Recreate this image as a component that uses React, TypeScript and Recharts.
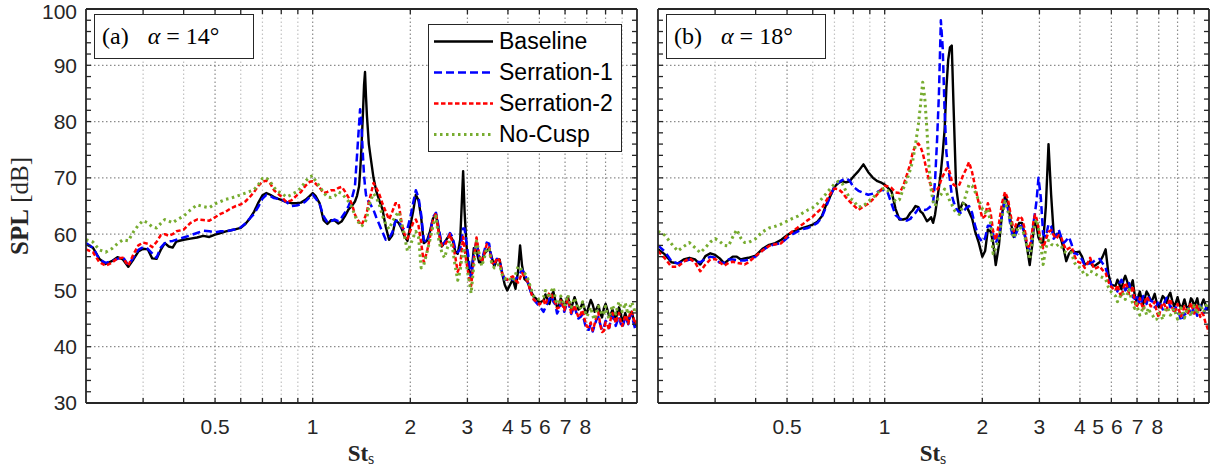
import React from 'react';
import { LineChart, Line, XAxis, YAxis, ReferenceLine, Legend } from 'recharts';

// Strouhal number grid (shared low / high parts, panel-specific middle part)
const stLow = [
  0.2, 0.21, 0.22, 0.23, 0.24, 0.25, 0.26, 0.27, 0.28, 0.29, 0.3, 0.31, 0.32, 0.33, 0.34, 0.35, 0.36, 0.37, 0.38,
  0.4, 0.42, 0.44, 0.46, 0.48, 0.5, 0.52, 0.54, 0.56, 0.58, 0.6, 0.62, 0.64, 0.66, 0.68, 0.7, 0.72, 0.74, 0.76, 0.78, 0.8,
  0.83, 0.86, 0.89, 0.92, 0.95, 0.98,
];
const stMidA = [
  1, 1.02, 1.05, 1.08, 1.11, 1.14, 1.17, 1.2, 1.23, 1.26, 1.29, 1.32, 1.35,
  1.37, 1.39, 1.4, 1.41, 1.42, 1.43, 1.44, 1.45, 1.46, 1.47,
  1.49, 1.51, 1.54, 1.57, 1.6,
  1.64, 1.68, 1.72, 1.76, 1.8, 1.84, 1.88, 1.92, 1.96, 2,
];
const stMidB = [
  1, 1.02, 1.05, 1.08, 1.11, 1.14, 1.17, 1.2, 1.22, 1.245, 1.27, 1.29, 1.31, 1.33, 1.35, 1.37, 1.39,
  1.41, 1.43, 1.45, 1.47, 1.49, 1.51, 1.53, 1.55, 1.57, 1.59, 1.61, 1.63,
  1.66, 1.7, 1.74, 1.78, 1.82, 1.86, 1.9, 1.95, 2,
];
const stHigh = [
  2.04, 2.08, 2.12, 2.16, 2.2,
  2.25, 2.3, 2.35, 2.4, 2.45, 2.5, 2.55, 2.6, 2.65, 2.7, 2.75, 2.8, 2.85,
  2.88, 2.91, 2.94, 2.98, 3.03, 3.08,
  3.14, 3.2, 3.26, 3.32, 3.38, 3.44, 3.5, 3.56,
  3.63, 3.7, 3.77, 3.84, 3.91, 3.98,
  4.06, 4.14, 4.22, 4.3, 4.36, 4.42, 4.5,
  4.6, 4.7, 4.8, 4.9, 5,
];
const stTail = [
  5.15, 5.22, 5.3, 5.37, 5.45, 5.52, 5.6, 5.67, 5.75, 5.82, 5.9, 5.97, 6.05, 6.12, 6.2, 6.27, 6.35, 6.42, 6.5,
  6.6, 6.7, 6.8, 6.9, 7.0, 7.1, 7.2, 7.3, 7.4, 7.5, 7.6, 7.7, 7.8, 7.9, 8.0, 8.1, 8.2, 8.3, 8.4, 8.5, 8.6,
  8.7, 8.8, 8.9, 9.0, 9.1, 9.2, 9.3, 9.4, 9.5, 9.62, 9.75, 9.87, 10,
];
const stA = [...stLow, ...stMidA, ...stHigh, ...stTail];
const stB = [...stLow, ...stMidB, ...stHigh, ...stTail];

// (a) alpha = 14 deg
const baselineA = [
  58.2, 57.6, 55.6, 54.7, 55.2, 55.9, 55.5, 54.2, 55.5, 56.9, 57.4, 57.3, 55.7, 55.6, 57.2, 58.4, 57.8, 57.6, 58.7,
  59.0, 59.2, 59.4, 59.7, 59.5, 59.9, 60.2, 60.5, 60.7, 60.9, 61.1, 61.8, 62.8, 64.0, 65.6, 66.9, 67.3, 67.0, 66.6, 66.3, 66.1,
  65.7, 65.5, 65.5, 65.6, 66.1, 66.8,
  67.3, 66.8, 65.5, 62.5, 61.8, 62.5, 62.4, 61.9, 62.3, 63.3, 64.4, 65.0, 65.8,
  66.8, 68.5, 71.0, 74.0, 77.9, 82.0, 86.5, 88.8, 84.5, 81.0,
  76.0, 73.5, 70.0, 67.7, 66.2,
  64.5, 61.3, 59.0, 59.8, 62.5, 62.0, 61.0, 59.6, 58.8, 61.5,
  64.0, 67.0, 66.0, 63.0, 58.4,
  58.8, 60.5, 62.8, 63.5, 60.5, 57.8, 58.5, 59.3, 59.8, 59.0, 57.0, 56.5, 59.0,
  65.0, 71.2, 64.0, 58.0, 53.5, 52.5,
  57.5, 57.0, 55.0, 55.0, 56.5, 57.0, 57.5, 56.0,
  54.3, 55.5, 55.5, 53.0, 51.0, 50.0,
  51.0, 52.0, 50.3, 53.5, 58.0, 54.5, 52.0,
  51.5, 50.0, 48.9, 48.5, 47.8,
  48.2, 49.3, 48.4, 47.6, 49.0, 49.8, 48.2, 47.0, 47.3, 48.6, 47.8, 46.9, 48.0, 48.9, 47.6, 46.8, 47.9, 48.8, 47.8,
  46.6, 46.9, 47.9, 46.6, 45.8, 47.2, 48.3, 47.5, 46.2, 46.7, 47.4, 46.0, 45.2, 46.8, 47.6, 46.6, 45.4, 45.7, 46.6, 45.6, 44.8,
  46.2, 47.0, 46.0, 44.6, 45.0, 46.0, 45.0, 44.2, 45.5, 46.2, 45.0, 44.2, 43.5,
];
const serration1A = [
  58.4, 57.6, 55.5, 54.9, 55.2, 55.6, 55.9, 54.5, 55.8, 57.2, 57.7, 57.4, 56.6, 55.8, 57.6, 58.4, 58.7, 58.8, 59.0,
  59.4, 59.8, 60.2, 60.6, 60.5, 60.3, 60.5, 60.5, 60.7, 60.9, 61.2, 61.9, 62.8, 63.6, 64.9, 66.3, 67.0, 66.8, 66.4, 66.3, 66.2,
  65.7, 65.0, 65.1, 65.3, 65.8, 66.6,
  67.0, 66.4, 65.4, 63.2, 62.1, 62.3, 62.6, 62.3, 63.0, 63.9, 65.0, 66.3, 68.5,
  74.0, 79.5, 82.2, 80.5, 77.0, 73.5, 70.5, 68.5, 67.0, 66.3,
  65.7, 65.2, 64.3, 63.0, 61.9,
  60.4, 59.0, 59.3, 60.3, 62.3, 62.5, 61.2, 60.8, 61.0, 63.0,
  65.5, 67.8, 66.5, 63.5, 59.0,
  58.5, 60.0, 63.0, 63.8, 61.0, 58.1, 58.5, 59.2, 60.2, 59.5, 57.5, 56.8, 57.3,
  59.0, 61.0, 61.0, 58.5, 55.5, 51.9,
  56.5, 58.8, 56.0, 55.3, 57.0, 58.5, 58.3, 55.8,
  54.8, 55.6, 55.3, 53.2, 51.9, 51.9,
  52.2, 51.9, 52.0, 52.5, 53.0, 53.7, 53.0,
  51.6, 49.8, 48.4, 47.8, 47.2,
  46.2, 47.0, 47.8, 48.5, 49.0, 48.0, 47.5, 45.9, 46.6, 47.8, 47.2, 46.2, 47.3, 48.1, 47.0, 45.8, 46.6, 47.3, 46.0,
  45.0, 45.3, 45.8, 44.2, 43.0, 43.0, 44.0, 42.7, 43.8, 44.8, 45.3, 44.0, 43.0, 43.4, 44.6, 44.2, 43.3, 44.7, 45.5, 44.8, 43.7,
  44.6, 45.3, 44.2, 43.4, 44.2, 45.4, 44.8, 44.0, 45.2, 45.8, 44.3, 43.2, 43.7,
];
const serration2A = [
  57.3, 56.8, 55.0, 54.4, 54.9, 55.7, 55.8, 54.4, 56.4, 58.0, 58.5, 58.3, 57.7, 58.6, 59.8, 60.0, 59.7, 60.0, 60.5,
  60.8, 62.0, 62.6, 62.5, 62.4, 63.0, 63.6, 64.0, 64.6, 65.0, 65.3, 65.8, 66.6, 67.5, 68.6, 69.3, 69.5, 69.0, 67.8, 67.2, 66.7,
  65.7, 66.0, 66.8, 67.5, 68.6, 69.3,
  69.4, 69.0, 68.3, 67.3, 67.5, 67.8, 67.8, 68.2, 68.4, 67.5, 66.5, 65.4, 63.5,
  62.7, 62.2, 61.8, 61.6, 61.8, 62.2, 62.5, 63.0, 63.5, 64.0,
  65.7, 67.0, 69.1, 68.2, 67.3,
  65.5, 64.0, 62.6, 64.0, 65.5, 65.5, 62.0, 60.0, 59.2, 60.6,
  62.0, 62.6, 61.5, 58.5, 55.0,
  56.8, 59.5, 62.5, 63.8, 60.0, 58.0, 58.0, 58.8, 60.0, 58.5, 56.1, 53.3, 54.5,
  57.0, 59.5, 57.5, 55.0, 52.5, 50.8,
  55.5, 59.4, 56.5, 55.0, 56.5, 58.2, 57.6, 55.0,
  54.6, 55.8, 55.3, 53.0, 52.2, 51.9,
  52.3, 52.5, 51.8, 51.4, 52.2, 53.1, 52.5,
  51.6, 49.8, 48.4, 48.0, 47.5,
  48.2, 47.4, 48.8, 49.6, 49.3, 48.3, 47.8, 46.8, 47.0, 48.2, 47.4, 46.5, 47.7, 48.4, 47.2, 46.0, 46.6, 47.4, 46.3,
  45.2, 45.8, 46.5, 44.8, 43.6, 43.5, 44.3, 42.9, 44.0, 45.4, 46.1, 44.0, 42.6, 42.8, 44.3, 44.0, 43.0, 45.0, 46.0, 45.3, 44.2,
  45.2, 46.0, 44.6, 43.7, 44.5, 45.6, 45.2, 44.1, 45.8, 46.4, 45.2, 44.0, 44.6,
];
const noCuspA = [
  59.0, 58.6, 57.2, 56.8, 57.4, 58.3, 59.0, 58.8, 60.4, 61.6, 62.4, 62.0, 61.3, 61.1, 61.9, 62.6, 62.3, 62.0, 62.5,
  63.2, 64.3, 65.2, 64.9, 64.7, 65.4, 65.8, 66.2, 66.4, 66.7, 67.0, 67.3, 67.6, 67.9, 68.8, 69.9, 70.0, 69.3, 68.3, 67.6, 67.3,
  66.6, 67.0, 67.5, 68.2, 69.4, 70.2,
  70.4, 69.5, 68.5, 67.4, 66.6, 66.5, 66.8, 67.5, 67.2, 66.5, 65.8, 64.8, 63.3,
  62.4, 62.0, 61.6, 61.4, 61.5, 61.7, 61.9, 62.1, 62.5, 63.0,
  65.0, 66.0, 67.2, 66.5, 65.5,
  63.3, 61.8, 60.9, 62.2, 63.2, 64.0, 61.8, 59.5, 57.0, 58.0,
  59.4, 60.5, 59.5, 54.0, 54.5,
  56.7, 59.0, 61.5, 63.2, 58.8, 56.8, 55.8, 57.5, 58.8, 57.5, 54.3, 51.8, 53.5,
  55.5, 57.0, 57.0, 54.5, 52.0, 49.5,
  54.5, 58.8, 56.5, 54.3, 55.7, 57.5, 57.3, 55.0,
  54.0, 54.5, 54.6, 52.8, 52.0, 52.4,
  52.0, 51.6, 52.8, 54.3, 54.0, 53.6, 53.1,
  52.2, 50.5, 49.0, 48.6, 48.4,
  48.8, 50.0, 49.4, 48.6, 49.9, 50.6, 48.6, 47.6, 47.8, 49.0, 48.2, 47.2, 48.3, 49.2, 48.0, 47.0, 47.8, 48.7, 47.6,
  46.6, 47.0, 48.0, 46.4, 45.4, 46.0, 47.0, 45.5, 44.8, 46.2, 47.2, 46.6, 45.6, 46.0, 47.2, 45.8, 45.0, 46.3, 47.4, 46.6, 45.8,
  47.0, 48.0, 47.2, 46.2, 46.8, 47.8, 46.6, 45.8, 47.0, 47.9, 47.2, 46.0, 46.3,
];

// (b) alpha = 18 deg
const baselineB = [
  57.3, 56.4, 55.0, 54.8, 55.5, 55.8, 55.5, 54.6, 56.1, 56.6, 56.3, 55.7, 54.8, 55.4, 56.0, 56.0, 55.5, 55.7, 55.8,
  56.2, 57.4, 58.1, 58.4, 59.0, 59.8, 60.4, 60.8, 61.1, 61.4, 61.7, 62.2, 63.2, 65.2, 66.8, 68.4, 69.1, 69.4, 69.2, 69.4, 70.2,
  71.2, 72.4, 71.0, 70.0, 69.4, 69.1,
  68.8, 68.3, 67.6, 64.5, 62.6, 62.6, 62.8, 63.8, 64.2, 65.0, 64.8, 64.0, 63.7, 63.0, 62.3, 62.6, 63.0,
  62.0, 63.5, 66.0, 68.3, 71.0, 74.5, 78.5, 86.0, 91.0, 93.2, 93.5, 83.0,
  68.5, 64.0, 65.6, 65.2, 64.0, 62.8, 60.5, 58.5, 56.0,
  57.0, 60.8, 60.5, 58.5, 54.5,
  58.0, 63.5, 66.8, 65.5, 62.0, 59.5, 61.0, 62.0, 62.0, 60.0, 57.5, 54.5, 58.0,
  61.0, 62.0, 61.5, 59.4, 58.5, 58.5,
  64.9, 76.0, 67.0, 60.0, 59.8, 60.2, 59.0, 57.5,
  55.2, 56.5, 57.1, 56.8, 56.8, 56.9,
  56.0, 54.6, 54.8, 55.2, 54.5, 54.3, 54.6,
  55.0, 56.0, 57.3, 52.8, 51.0,
  50.8, 51.9, 51.0, 50.2, 51.8, 52.6, 51.5, 50.3, 50.9, 51.8, 49.2, 48.2, 48.8, 49.8, 48.4, 47.6, 48.8, 49.8, 49.3,
  48.2, 48.4, 49.4, 47.8, 47.0, 48.0, 49.0, 48.6, 47.8, 49.0, 49.6, 48.2, 47.2, 47.8, 48.8, 47.6, 46.8, 47.4, 48.4, 47.3, 46.6,
  47.4, 48.6, 48.2, 47.2, 47.8, 48.6, 47.2, 46.5, 47.6, 48.4, 47.5, 46.6, 47.2,
];
const serration1B = [
  58.0, 56.9, 55.2, 54.8, 55.1, 55.5, 55.2, 55.0, 55.6, 56.0, 55.8, 54.9, 54.9, 55.5, 55.5, 55.4, 55.3, 55.3, 55.5,
  56.0, 57.1, 57.9, 58.2, 58.4, 59.3, 60.0, 60.5, 60.9, 61.1, 61.5, 62.0, 63.0, 64.9, 66.8, 68.4, 69.2, 69.6, 69.9, 69.5, 68.4,
  67.7, 67.3, 67.0, 67.2, 67.5, 67.9,
  67.7, 67.5, 65.4, 63.4, 62.8, 62.5, 62.4, 62.7, 63.3, 63.8, 64.5, 64.6, 64.4, 64.3, 64.4, 64.7, 65.0,
  65.5, 69.5, 76.5, 85.0, 98.0, 93.0, 82.0, 74.5, 71.8, 69.5, 67.0, 65.8,
  64.6, 63.8, 63.8, 64.6, 65.0, 63.8, 61.5, 59.5, 58.6,
  59.3, 61.5, 61.5, 59.8, 58.4,
  59.8, 63.5, 66.0, 64.5, 61.0, 59.2, 60.3, 61.4, 61.5, 60.0, 58.0, 57.0, 59.5,
  62.2, 64.0, 66.0, 70.0, 66.5, 60.0,
  59.5, 61.8, 61.4, 59.2, 59.8, 60.8, 59.5, 58.4,
  58.9, 59.5, 58.2, 56.6, 56.5, 56.1,
  55.5, 54.4, 54.6, 54.9, 54.9, 55.2, 55.5,
  55.6, 54.8, 54.0, 52.2, 50.9,
  50.6, 49.8, 51.3, 51.9, 50.9, 50.0, 50.6, 51.3, 49.8, 48.8, 48.5, 49.3, 48.3, 47.4, 48.1, 49.0, 48.6, 47.6, 49.0,
  48.2, 48.0, 47.0, 47.3, 48.2, 47.4, 46.6, 48.0, 48.7, 48.1, 47.0, 47.4, 46.4, 47.0, 46.0, 45.8, 44.6, 44.8, 45.9, 45.6, 46.8,
  46.5, 45.6, 46.4, 47.2, 46.3, 45.5, 46.5, 47.3, 46.9, 46.0, 46.7, 47.3, 46.6,
];
const serration2B = [
  57.0, 55.7, 54.2, 54.2, 55.1, 55.7, 55.0, 53.4, 54.6, 55.5, 55.6, 55.0, 54.4, 54.9, 55.1, 54.9, 54.8, 54.6, 55.0,
  56.1, 57.1, 57.9, 58.2, 58.4, 59.7, 60.5, 61.2, 61.8, 62.5, 63.1, 63.9, 64.6, 65.9, 67.2, 68.1, 68.0, 67.4, 66.5, 65.8, 65.2,
  64.3, 64.9, 65.4, 66.2, 67.1, 68.0,
  68.6, 68.5, 68.2, 67.4, 67.3, 68.5, 70.5, 72.5, 74.5, 75.8, 76.1, 75.5, 74.4, 72.8, 71.0, 69.6, 68.5,
  67.6, 67.7, 67.9, 68.4, 69.5, 70.3, 70.9, 71.6, 71.8, 70.8, 69.5, 68.8,
  68.5, 68.8, 70.3, 71.5, 72.8, 71.0, 68.5, 65.5, 62.8,
  63.2, 65.5, 63.9, 60.5, 59.0,
  61.8, 65.5, 67.5, 66.2, 63.2, 60.5, 62.0, 63.2, 62.8, 61.0, 58.0, 57.5, 60.5,
  62.5, 63.5, 62.8, 61.0, 59.0, 57.5,
  59.0, 60.4, 60.7, 59.8, 59.2, 59.8, 59.5, 58.2,
  57.2, 57.5, 57.7, 56.3, 55.2, 55.0,
  54.8, 54.0, 54.8, 55.8, 54.8, 53.8, 54.0,
  54.3, 53.6, 53.1, 51.5, 50.6,
  50.0, 51.0, 49.6, 48.8, 50.5, 51.4, 50.6, 49.4, 49.9, 50.8, 48.0, 47.0, 47.7, 48.6, 47.5, 46.6, 48.0, 48.9, 48.4,
  47.2, 47.2, 48.0, 46.2, 45.2, 46.9, 47.8, 47.4, 46.5, 47.8, 48.5, 47.0, 46.0, 46.6, 47.6, 46.3, 45.4, 46.2, 47.2, 46.6, 45.7,
  47.0, 47.8, 46.8, 45.9, 46.6, 47.5, 46.3, 45.3, 46.0, 45.6, 44.3, 43.5, 42.5,
];
const noCuspB = [
  60.5, 59.8, 58.3, 57.0, 57.8, 58.5, 57.6, 56.7, 57.6, 58.6, 59.2, 58.7, 58.0, 57.9, 59.5, 60.8, 59.3, 58.5, 58.5,
  59.2, 60.4, 61.1, 61.4, 61.8, 62.3, 62.8, 63.2, 63.8, 64.3, 64.7, 65.4, 66.3, 67.2, 68.1, 68.9, 69.4, 69.0, 67.6, 66.4, 66.0,
  64.8, 65.0, 65.8, 66.5, 67.3, 68.0,
  68.2, 67.8, 67.0, 65.8, 66.1, 68.0, 69.5, 71.5, 73.0, 76.0, 79.5, 83.0, 87.0, 84.0, 78.5, 72.0, 68.0,
  65.8, 65.0, 66.0, 66.6, 67.0, 67.5, 68.0, 67.5, 66.6, 65.8, 65.3, 64.5,
  63.8, 63.5, 65.0, 67.0, 68.8, 68.6, 67.5, 66.0, 64.5,
  63.8, 64.5, 62.0, 56.5, 57.5,
  59.0, 63.0, 65.8, 64.0, 62.0, 59.3, 60.5, 61.4, 60.9, 59.8, 57.5, 55.5, 58.5,
  61.0, 62.0, 62.6, 61.0, 58.0, 54.6,
  57.5, 58.9, 58.2, 58.0, 57.9, 58.2, 57.9, 57.0,
  56.7, 56.7, 56.7, 55.0, 54.3, 54.1,
  53.5, 52.7, 52.8, 53.4, 53.3, 53.1, 52.8,
  52.5, 52.3, 52.0, 50.5, 49.7,
  49.0, 48.0, 48.6, 49.6, 49.3, 48.4, 49.4, 50.2, 48.7, 47.6, 46.8, 47.7, 46.5, 45.6, 46.3, 47.2, 46.6, 45.7, 46.9,
  46.0, 45.6, 44.8, 44.9, 45.9, 45.7, 44.8, 46.3, 47.0, 46.6, 45.6, 46.0, 46.8, 45.8, 44.9, 46.0, 46.9, 46.0, 45.1, 46.2, 47.0,
  46.3, 45.4, 46.4, 47.3, 46.6, 45.8, 46.7, 47.5, 46.9, 46.1, 47.0, 47.8, 47.2,
];

// axes / ticks
const xTickPos = [0.5, 1, 2, 3, 4, 4.55, 5.2, 6.02, 6.93];
const xTickText = ['0.5', '1', '2', '3', '4', '5', '6', '7', '8'];
const xMajorGrid = [0.5, 1, 2, 3, 4, 5, 6, 7, 8];
const xMinorGrid = [0.3, 0.4, 0.6, 0.7, 0.8, 0.9, 9];
const xTickMarks = [0.3, 0.4, 0.5, 0.6, 0.7, 0.8, 0.9, 1, 2, 3, 4, 5, 6, 7, 8, 9];
const yTicks = [30, 40, 50, 60, 70, 80, 90, 100];
const yGrid = [40, 50, 60, 70, 80, 90];
const yTickMarks = [
  32, 34, 36, 38, 40, 42, 44, 46, 48, 50, 52, 54, 56, 58, 60, 62, 64, 66,
  68, 70, 72, 74, 76, 78, 80, 82, 84, 86, 88, 90, 92, 94, 96, 98,
];

const SERIES = [
  { key: 'baseline', name: 'Baseline', color: '#000000', width: 2.4, dash: undefined as string | undefined },
  { key: 'serr1', name: 'Serration-1', color: '#0000ff', width: 2.5, dash: '8 4' },
  { key: 'serr2', name: 'Serration-2', color: '#ff0000', width: 2.5, dash: '4.5 2.5' },
  { key: 'nocusp', name: 'No-Cusp', color: '#77ac30', width: 3, dash: '2.5 3.5' },
];

const X_MIN = 0.2, X_MAX = 10, Y_MIN = 30, Y_MAX = 100;
const CHART_W = 650, CHART_H = 467;
const PLOT = { left: 86, top: 9, width: 551, height: 394 };
const TICK_PX = 5;
const tickDy = (TICK_PX * (Y_MAX - Y_MIN)) / PLOT.height;
const tickFx = Math.pow(X_MAX / X_MIN, TICK_PX / PLOT.width);

const AXIS_COLOR = '#262626';
const SANS = '"Liberation Sans", Arial, Helvetica, sans-serif';
const SERIF = '"Liberation Serif", "Times New Roman", serif';

function YTick(props: any) {
  const { x, y, payload } = props;
  // top label sits a little lower so it stays inside the figure
  const shift = payload.value === Y_MAX ? 3 : 0;
  return (
    <text x={x} y={y + shift} dy="0.355em" textAnchor="end" fontSize={21} fill={AXIS_COLOR} fontFamily={SANS}>
      {payload.value}
    </text>
  );
}

function renderLegend() {
  return (
    <div style={{ border: `1.3px solid ${AXIS_COLOR}`, background: '#fff', width: 192, padding: '1px 0', boxSizing: 'content-box' }}>
      {SERIES.map((s) => (
        <div key={s.key} style={{ display: 'flex', alignItems: 'center', height: 31 }}>
          <svg width={70} height={31} style={{ display: 'block' }}>
            <line x1={5} x2={64} y1={15.5} y2={15.5} stroke={s.color} strokeWidth={s.width} strokeDasharray={s.dash} />
          </svg>
          <span style={{ fontFamily: SANS, fontSize: 23, color: '#000', lineHeight: '31px', whiteSpace: 'nowrap' }}>{s.name}</span>
        </div>
      ))}
    </div>
  );
}

interface PanelProps {
  st: number[];
  values: number[][];
  left: number;
  tag: string;
  angle: string;
  yLabels: boolean;
  legend: boolean;
}

function Panel({ st, values, left, tag, angle, yLabels, legend }: PanelProps) {
  const data = st.map((x, i) => ({
    st: x,
    baseline: values[0][i],
    serr1: values[1][i],
    serr2: values[2][i],
    nocusp: values[3][i],
  }));
  const tickStyle = { fontSize: 21, fill: AXIS_COLOR, fontFamily: SANS };
  const frame = { stroke: AXIS_COLOR, strokeWidth: 1.8, ifOverflow: 'visible' as const };
  const tk = { stroke: AXIS_COLOR, strokeWidth: 1.3, ifOverflow: 'visible' as const };

  return (
    <div style={{ position: 'absolute', left, top: 0, width: CHART_W, height: CHART_H }}>
      <LineChart
        width={CHART_W}
        height={CHART_H}
        data={data}
        margin={{ top: PLOT.top, right: CHART_W - PLOT.left - PLOT.width, left: 16, bottom: 0 }}
      >
        <XAxis
          dataKey="st"
          type="number"
          scale="log"
          domain={[X_MIN, X_MAX]}
          allowDataOverflow
          ticks={xTickPos}
          interval={0}
          tickFormatter={(v: number) => xTickText[xTickPos.indexOf(v)] ?? ''}
          tickLine={false}
          axisLine={false}
          tickSize={0}
          tickMargin={16}
          height={CHART_H - PLOT.top - PLOT.height}
          tick={tickStyle}
        />
        <YAxis
          type="number"
          domain={[Y_MIN, Y_MAX]}
          allowDataOverflow
          ticks={yTicks}
          interval={0}
          tickLine={false}
          axisLine={false}
          tickSize={0}
          tickMargin={9}
          width={70}
          tick={yLabels ? <YTick /> : false}
        />
        {yGrid.map((v) => (
          <ReferenceLine key={'hg' + v} y={v} stroke="#8c8c8c" strokeWidth={1.2} strokeDasharray="1.5 2.5" />
        ))}
        {xMinorGrid.map((v) => (
          <ReferenceLine key={'mg' + v} x={v} stroke="#c2c2c2" strokeWidth={1.2} strokeDasharray="1.5 2.5" />
        ))}
        {xMajorGrid.map((v) => (
          <ReferenceLine key={'vg' + v} x={v} stroke="#8c8c8c" strokeWidth={1.2} strokeDasharray="1.5 2.5" />
        ))}
        {SERIES.map((s) => (
          <Line
            key={s.key}
            dataKey={s.key}
            name={s.name}
            stroke={s.color}
            strokeWidth={s.width}
            strokeDasharray={s.dash}
            strokeLinejoin="round"
            dot={false}
            activeDot={false}
            isAnimationActive={false}
          />
        ))}
        {xTickMarks.map((v) => (
          <ReferenceLine key={'tb' + v} segment={[{ x: v, y: Y_MIN }, { x: v, y: Y_MIN + tickDy }]} {...tk} />
        ))}
        {xTickMarks.map((v) => (
          <ReferenceLine key={'tt' + v} segment={[{ x: v, y: Y_MAX }, { x: v, y: Y_MAX - tickDy }]} {...tk} />
        ))}
        {yTickMarks.map((v) => (
          <ReferenceLine key={'tl' + v} segment={[{ x: X_MIN, y: v }, { x: X_MIN * tickFx, y: v }]} {...tk} />
        ))}
        {yTickMarks.map((v) => (
          <ReferenceLine key={'tr' + v} segment={[{ x: X_MAX / tickFx, y: v }, { x: X_MAX, y: v }]} {...tk} />
        ))}
        <ReferenceLine y={Y_MIN} {...frame} />
        <ReferenceLine y={Y_MAX} {...frame} />
        <ReferenceLine x={X_MIN} {...frame} />
        <ReferenceLine x={X_MAX} {...frame} />
        {legend && (
          <Legend
            layout="vertical"
            align="center"
            verticalAlign="middle"
            content={renderLegend}
            wrapperStyle={{ left: 428, top: 24, width: 194, height: 127 }}
          />
        )}
      </LineChart>
      <div
        style={{
          position: 'absolute', left: 94, top: 14, width: 160, height: 45,
          border: `1.3px solid ${AXIS_COLOR}`, background: '#fff',
          fontFamily: SERIF, fontSize: 24, color: '#000',
          display: 'flex', alignItems: 'center', paddingLeft: 7, boxSizing: 'border-box', whiteSpace: 'nowrap',
        }}
      >
        <span>({tag})</span>
        <span style={{ marginLeft: 19 }}>
          <i>α</i> = {angle}°
        </span>
      </div>
      <div
        style={{
          position: 'absolute', left: 326, top: 442, width: 70, textAlign: 'center',
          fontFamily: SERIF, fontSize: 23, lineHeight: '23px', color: AXIS_COLOR, whiteSpace: 'nowrap',
        }}
      >
        <b>St</b>
        <span style={{ fontSize: 16, position: 'relative', top: 3 }}>s</span>
      </div>
    </div>
  );
}

export default function App() {
  return (
    <div style={{ position: 'absolute', left: 0, top: 0, width: 1212, height: 467, background: '#fff', overflow: 'hidden' }}>
      <Panel
        st={stA}
        values={[baselineA, serration1A, serration2A, noCuspA]}
        left={0}
        tag="a"
        angle="14"
        yLabels
        legend
      />
      <Panel
        st={stB}
        values={[baselineB, serration1B, serration2B, noCuspB]}
        left={572}
        tag="b"
        angle="18"
        yLabels={false}
        legend={false}
      />
      <div
        style={{
          position: 'absolute', left: 20, top: 206, transform: 'translate(-50%, -50%) rotate(-90deg)',
          fontFamily: SERIF, fontSize: 25, color: AXIS_COLOR, whiteSpace: 'nowrap',
        }}
      >
        <b>SPL</b> [dB]
      </div>
    </div>
  );
}
